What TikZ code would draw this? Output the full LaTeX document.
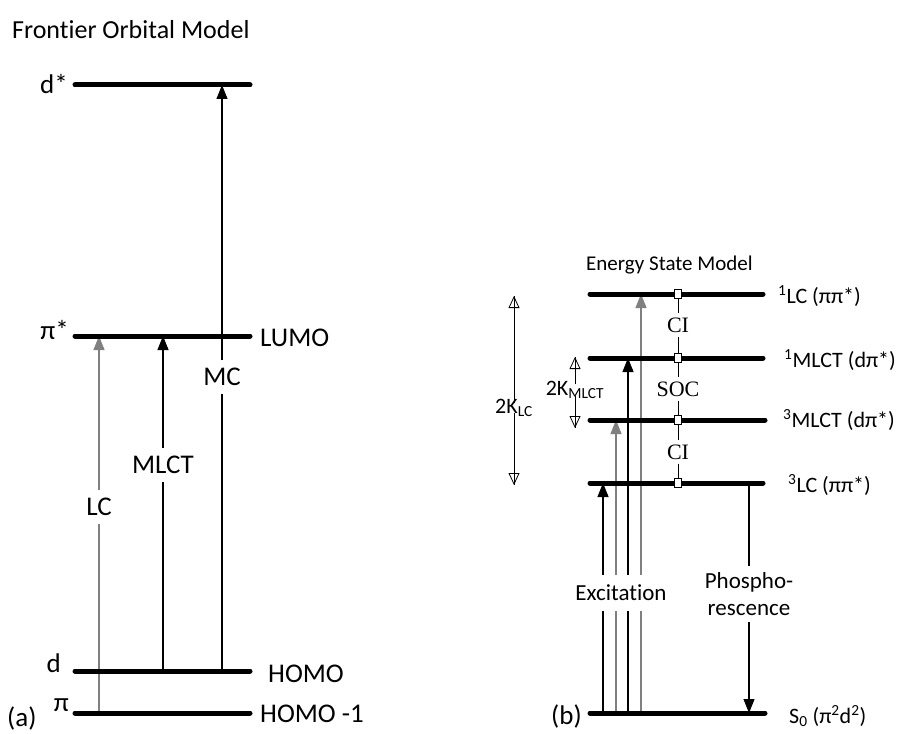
\documentclass[tikz,border=0pt]{standalone}
\usepackage{fontspec}
\setmainfont{Carlito}[Ligatures=NoCommon]
\newfontfamily\serifx{Liberation Serif}
\usetikzlibrary{arrows.meta}
\begin{document}
\begin{tikzpicture}[x=1pt,y=-1pt,
  level/.style={line width=5pt, line cap=round},
  tr/.style={line width=1.2pt, -{Triangle[length=14pt,width=11pt]}},
  grey/.style={draw={rgb,255:red,128;green,128;blue,128}},
  big/.style={font=\fontsize{27}{31}\selectfont, inner sep=0pt},
  ttl/.style={font=\fontsize{26}{30}\selectfont, inner sep=0pt},
  sm/.style={font=\fontsize{22}{26}\selectfont, inner sep=0pt},
  mid/.style={font=\fontsize{23}{27}\selectfont, inner sep=0pt},
  ser/.style={font=\fontsize{22}{26}\selectfont\serifx, fill=white, inner xsep=1pt, inner ysep=5pt},
  cut/.style={fill=white, inner xsep=2pt, inner ysep=8pt},
  sq/.style={draw, fill=white, line width=0.8pt, minimum width=7pt, minimum height=9pt, inner sep=0pt},
  kar/.style={line width=0.8pt, -{Triangle[open,length=12pt,width=11pt]}},
  kline/.style={line width=0.8pt}]
\useasboundingbox (0,0) rectangle (904,733);

% ---------- (a) Frontier Orbital Model ----------
\node[ttl, anchor=west] (titleA) at (12,30) {Frontier Orbital Model};

\coordinate (dsL) at (75,85);   \coordinate (dsR) at (250,85);
\coordinate (psL) at (75,336);  \coordinate (psR) at (250,336);
\coordinate (dL)  at (75,671);  \coordinate (dR)  at (250,671);
\coordinate (pL)  at (75,713);  \coordinate (pR)  at (250,713);

\coordinate (lc0) at (99,713);   \coordinate (lc1) at (99,336);
\coordinate (ml0) at (163,671);  \coordinate (ml1) at (163,336);
\coordinate (mc0) at (222,671);  \coordinate (mc1) at (222,85);

\draw[tr, grey] (lc0) -- (lc1);
\draw[tr] (ml0) -- (ml1);
\draw[tr] (mc0) -- (mc1);

\draw[level] (dsL) -- (dsR);
\draw[level] (psL) -- (psR);
\draw[level] (dL) -- (dR);
\draw[level] (pL) -- (pR);

\node[big, cut] (lLC) at (99,507) {LC};
\node[big, cut] (lMLCT) at (163,465) {MLCT};
\node[big, cut] (lMC) at (222,377) {MC};

\node[big, anchor=east] (tds) at (68,84) {d*};
\node[big, anchor=east] (tps) at (69,330) {π*};
\node[big, anchor=east] (td) at (61,663) {d};
\node[big, anchor=east] (tp) at (69,705) {π};
\node[big, anchor=west] (ta) at (7,718) {(a)};
\node[big, anchor=west] (tlumo) at (260,338) {LUMO};
\node[big, anchor=west] (thomo) at (268,674) {HOMO};
\node[big, anchor=west] (thomo1) at (260,714) {HOMO -1};

% ---------- (b) Energy State Model ----------
\node[font=\fontsize{21}{25}\selectfont, inner sep=0pt, anchor=west] (titleB) at (586,265) {Energy State Model};

\coordinate (s1lcL) at (590,294);  \coordinate (s1lcR) at (763,294);
\coordinate (s1mlL) at (590,358);  \coordinate (s1mlR) at (763,358);
\coordinate (s3mlL) at (590,420);  \coordinate (s3mlR) at (765,420);
\coordinate (s3lcL) at (590,483);  \coordinate (s3lcR) at (763,483);
\coordinate (s0L)   at (590,713);  \coordinate (s0R)   at (765,713);

\coordinate (e1a) at (603,713); \coordinate (e1b) at (603,483);
\coordinate (e2a) at (616,713); \coordinate (e2b) at (616,420);
\coordinate (e3a) at (628,713); \coordinate (e3b) at (628,358);
\coordinate (e4a) at (641,713); \coordinate (e4b) at (641,294);
\coordinate (ph0) at (749,483); \coordinate (ph1) at (749,713);

\draw[tr] (e1a) -- (e1b);
\draw[tr, grey] (e2a) -- (e2b);
\draw[tr] (e3a) -- (e3b);
\draw[tr, grey] (e4a) -- (e4b);
\draw[tr] (ph0) -- (ph1);

% CI / SOC ladder
\coordinate (ci0) at (678,294);
\coordinate (ci3) at (678,483);
\draw[line width=0.8pt] (ci0) -- (ci3);

\draw[level] (s1lcL) -- (s1lcR);
\draw[level] (s1mlL) -- (s1mlR);
\draw[level] (s3mlL) -- (s3mlR);
\draw[level] (s3lcL) -- (s3lcR);
\draw[level] (s0L) -- (s0R);

\node[sq] (q1) at (678,294) {};
\node[sq] (q2) at (678,358) {};
\node[sq] (q3) at (678,420) {};
\node[sq] (q4) at (678,483) {};
\node[ser] (tci1) at (678,325) {CI};
\node[ser] (tsoc) at (678,389) {SOC};
\node[ser] (tci2) at (678,452) {CI};

\node[mid, fill=white, inner xsep=2pt, inner ysep=10pt] (texc) at (621,593) {Excitation};
\node[mid, fill=white, align=center, inner xsep=2pt, inner ysep=6pt] (tph) at (749,594) {Phospho-\\rescence};

\node[sm, anchor=west] (t1lc) at (778,296) {\textsuperscript{1}LC (ππ*)};
\node[sm, anchor=west] (t1ml) at (784,360) {\textsuperscript{1}MLCT (dπ*)};
\node[sm, anchor=west] (t3ml) at (783,420) {\textsuperscript{3}MLCT (dπ*)};
\node[sm, anchor=west] (t3lc) at (788,485) {\textsuperscript{3}LC (ππ*)};
\node[sm, anchor=west] (ts0) at (789,716) {S\textsubscript{0} (π\textsuperscript{2}d\textsuperscript{2})};
\node[big, anchor=east] (tb) at (582,716) {(b)};

% 2K arrows
\node[sm] (kml) at (575,390) {2K\textsubscript{MLCT}};
\coordinate (kmlT) at (575,357);
\coordinate (kmlB) at (575,428);
\draw[kline] ([yshift=-3pt]kml.north) -- (kmlT);
\draw[kar] ([yshift=-3pt]kml.north) -- (kmlT);
\draw[kline] ([yshift=3pt]kml.south) -- (kmlB);
\draw[kar] ([yshift=3pt]kml.south) -- (kmlB);

\node[sm] (klc) at (514,408) {2K\textsubscript{LC}};
\coordinate (klcT) at (514,296);
\coordinate (klcB) at (514,485);
\draw[kline] ([yshift=-4pt]klc.north) -- (klcT);
\draw[kar] ([yshift=-4pt]klc.north) -- (klcT);
\draw[kline] ([yshift=4pt]klc.south) -- (klcB);
\draw[kar] ([yshift=4pt]klc.south) -- (klcB);
\end{tikzpicture}
\end{document}
